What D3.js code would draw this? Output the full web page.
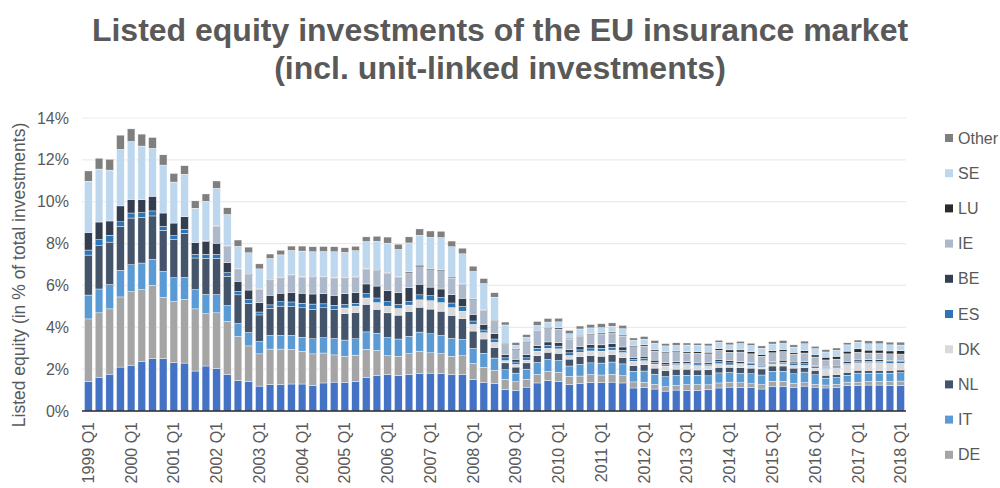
<!DOCTYPE html>
<html>
<head>
<meta charset="utf-8">
<script src="https://cdn.jsdelivr.net/npm/d3@7"></script>
<style>
  body { margin: 0; background: #fff; }
  svg { font-family: "Liberation Sans", Arial, sans-serif; }
</style>
</head>
<body>
<svg id="chart" width="1000" height="488"></svg>
<script>
// quarter labels 1999 Q1 .. 2018 Q1
const years = ["1999","2000","2001","2002","2003","2004","2005","2006","2007","2008",
  "2009","2010","2011","2012","2013","2014","2015","2016","2017","2018"];
const quarters = years.flatMap((y) => ["Q1","Q2","Q3","Q4"].map((q) => `${y} ${q}`)).slice(0, 77);

const yTicks = [0, 2, 4, 6, 8, 10, 12, 14];

// share of total investments, in %
const FR = [1.41,1.59,1.76,2.10,2.19,2.38,2.50,2.50,2.32,2.29,
  1.91,2.15,2.04,1.75,1.46,1.41,1.19,1.26,1.26,1.29,
  1.29,1.22,1.34,1.38,1.37,1.41,1.61,1.70,1.75,1.69,
  1.75,1.78,1.81,1.80,1.75,1.75,1.51,1.37,1.32,1.03,
  0.99,1.14,1.34,1.46,1.41,1.26,1.30,1.37,1.35,1.38,
  1.34,1.10,1.13,1.05,0.95,1.00,0.99,0.99,1.03,1.10,
  1.14,1.11,1.11,1.05,1.18,1.18,1.11,1.19,1.14,1.10,
  1.13,1.22,1.22,1.24,1.24,1.22,1.22];
const DE = [2.99,3.10,3.12,3.35,3.51,3.42,3.50,2.93,2.91,3.04,
  2.97,2.50,2.65,2.53,2.10,1.70,1.54,1.70,1.70,1.65,
  1.56,1.51,1.43,1.30,1.24,1.26,1.34,1.19,0.89,0.92,
  0.99,1.08,0.97,0.94,0.86,0.89,0.76,0.72,0.62,0.48,
  0.41,0.37,0.41,0.43,0.43,0.40,0.37,0.37,0.37,0.37,
  0.35,0.29,0.24,0.22,0.21,0.22,0.27,0.27,0.22,0.24,
  0.24,0.24,0.19,0.21,0.24,0.24,0.22,0.16,0.13,0.14,
  0.14,0.16,0.16,0.17,0.17,0.19,0.21];
const IT = [1.14,1.14,1.16,1.27,1.29,1.27,1.24,1.24,1.14,1.05,
  0.92,0.92,0.87,0.76,0.62,0.64,0.59,0.65,0.65,0.67,
  0.67,0.72,0.73,0.78,0.78,0.78,0.83,0.83,0.87,0.83,
  0.83,0.91,0.91,0.87,0.86,0.78,0.72,0.67,0.59,0.46,
  0.41,0.49,0.57,0.57,0.57,0.49,0.56,0.56,0.57,0.59,
  0.56,0.51,0.54,0.49,0.48,0.48,0.45,0.45,0.43,0.48,
  0.46,0.45,0.48,0.46,0.48,0.48,0.45,0.51,0.46,0.33,
  0.33,0.33,0.43,0.40,0.40,0.40,0.40];
const NL = [1.91,2.07,2.03,2.10,2.23,2.19,2.08,1.96,1.84,2.11,
  1.51,1.73,1.73,1.40,1.37,1.40,1.27,1.30,1.40,1.38,
  1.41,1.41,1.43,1.38,1.26,1.26,1.32,1.14,1.18,1.14,
  1.19,1.19,1.18,1.16,1.10,1.00,0.83,0.68,0.51,0.33,
  0.29,0.30,0.32,0.35,0.35,0.33,0.37,0.35,0.33,0.35,
  0.30,0.27,0.30,0.29,0.29,0.30,0.29,0.25,0.29,0.27,
  0.25,0.27,0.27,0.29,0.25,0.25,0.27,0.22,0.21,0.14,
  0.14,0.14,0.14,0.13,0.13,0.13,0.13];
const DK = [0,0,0,0,0,0,0,0,0,0,
  0,0,0,0,0,0,0,0,0,0,
  0,0,0,0,0.27,0.30,0.30,0.32,0.32,0.32,
  0.30,0.35,0.40,0.41,0.37,0.35,0.32,0.30,0.24,0.11,
  0.13,0.13,0.22,0.19,0.21,0.17,0.21,0.22,0.24,0.22,
  0.24,0.21,0.19,0.19,0.22,0.21,0.22,0.21,0.19,0.17,
  0.11,0.16,0.13,0.10,0.10,0.10,0.13,0.10,0.11,0.32,
  0.30,0.37,0.35,0.37,0.37,0.33,0.32];
const ES = [0.24,0.29,0.33,0.22,0.24,0.22,0.24,0.19,0.17,0.19,
  0.17,0.19,0.19,0.17,0.16,0.17,0.14,0.16,0.21,0.22,
  0.22,0.25,0.19,0.21,0.17,0.14,0.21,0.22,0.21,0.19,
  0.17,0.24,0.24,0.24,0.22,0.22,0.16,0.13,0.16,0.13,
  0.11,0.11,0.14,0.13,0.13,0.13,0.11,0.14,0.14,0.14,
  0.11,0.08,0.11,0.08,0.06,0.06,0.06,0.08,0.08,0.10,
  0.10,0.05,0.08,0.08,0.06,0.08,0.08,0.08,0.08,0.06,
  0.06,0.06,0.06,0.06,0.06,0.08,0.08];
const BE = [0.84,0.84,0.68,0.76,0.65,0.62,0.70,0.64,0.60,0.60,
  0.57,0.62,0.54,0.48,0.49,0.46,0.45,0.46,0.41,0.46,
  0.48,0.48,0.48,0.48,0.51,0.51,0.46,0.57,0.54,0.57,
  0.67,0.51,0.41,0.41,0.40,0.40,0.32,0.27,0.25,0.16,
  0.13,0.16,0.13,0.17,0.16,0.16,0.16,0.16,0.16,0.17,
  0.16,0.10,0.11,0.11,0.11,0.08,0.08,0.08,0.08,0.11,
  0.10,0.08,0.06,0.05,0.06,0.10,0.08,0.10,0.05,0.05,
  0.05,0.10,0.08,0.08,0.08,0.06,0.06];
const IE = [0,0,0,0,0,0,0,0,0,0,
  0,0,0.81,0.78,0.59,0.73,0.64,0.70,0.70,0.81,
  0.76,0.78,0.78,0.81,0.73,0.73,0.70,0.73,0.83,0.73,
  0.70,0.83,0.83,0.87,0.79,0.68,0.70,0.68,0.62,0.48,
  0.46,0.57,0.67,0.64,0.65,0.49,0.49,0.48,0.52,0.51,
  0.52,0.51,0.48,0.43,0.46,0.48,0.41,0.43,0.41,0.43,
  0.41,0.46,0.41,0.38,0.41,0.41,0.38,0.41,0.40,0.30,
  0.33,0.35,0.37,0.32,0.32,0.32,0.30];
const LU = [0,0,0,0,0,0,0,0,0,0,
  0,0.03,0.03,0.03,0.03,0.03,0.03,0.03,0.03,0.03,
  0.03,0.03,0.03,0.03,0.03,0.03,0.03,0.03,0.03,0.03,
  0.05,0.08,0.06,0.05,0.05,0.03,0.05,0.03,0.03,0.06,
  0.05,0.06,0.05,0.06,0.06,0.05,0.05,0.05,0.05,0.05,
  0.05,0.06,0.06,0.06,0.06,0.06,0.06,0.08,0.08,0.08,
  0.11,0.10,0.11,0.08,0.10,0.10,0.08,0.11,0.10,0.13,
  0.13,0.13,0.16,0.14,0.14,0.14,0.16];
const SE = [2.45,2.53,2.43,2.70,2.77,2.56,2.29,2.29,1.96,2.03,
  1.64,1.88,1.78,1.49,1.05,1.02,0.94,1.03,1.10,1.16,
  1.22,1.21,1.21,1.24,1.22,1.24,1.30,1.38,1.40,1.30,
  1.38,1.43,1.49,1.54,1.45,1.41,1.30,1.24,1.10,0.87,
  0.16,0.19,0.24,0.25,0.29,0.21,0.30,0.27,0.25,0.27,
  0.30,0.25,0.27,0.32,0.27,0.24,0.32,0.30,0.30,0.30,
  0.24,0.30,0.29,0.30,0.32,0.29,0.25,0.33,0.30,0.25,
  0.29,0.30,0.32,0.30,0.30,0.29,0.27];
const Other = [0.49,0.52,0.52,0.68,0.60,0.57,0.52,0.49,0.41,0.41,
  0.35,0.35,0.35,0.32,0.30,0.27,0.24,0.21,0.22,0.21,
  0.24,0.24,0.24,0.24,0.22,0.21,0.22,0.24,0.29,0.25,
  0.29,0.30,0.30,0.30,0.27,0.27,0.25,0.24,0.21,0.14,
  0.13,0.13,0.19,0.17,0.17,0.16,0.14,0.16,0.19,0.16,
  0.16,0.11,0.13,0.13,0.11,0.13,0.10,0.10,0.11,0.10,
  0.11,0.11,0.11,0.11,0.11,0.14,0.11,0.13,0.11,0.11,
  0.11,0.10,0.10,0.14,0.14,0.13,0.14];

// stack order, bottom to top
const countries = ["FR", "DE", "IT", "NL", "DK", "ES", "BE", "IE", "LU", "SE", "Other"];
const seriesValues = [FR, DE, IT, NL, DK, ES, BE, IE, LU, SE, Other];
const colors = ["#4472c4", "#a5a5a5", "#5b9bd5", "#44546a", "#d9d9d9", "#2e75b6",
  "#333f50", "#adb9ca", "#2b2b2b", "#bdd7ee", "#7f7f7f"];

const table = quarters.map((q, i) => {
  const row = { quarter: q };
  countries.forEach((c, k) => (row[c] = seriesValues[k][i]));
  return row;
});

const svg = d3.select("#chart");
const plotLeft = 83;
const plotRight = 906;
const plotTop = 118;
const plotBottom = 411;
const TEXT = "#595959";

const x = d3.scaleBand().domain(quarters).range([plotLeft, plotRight]).paddingInner(0.28).paddingOuter(0.14);
const y = d3.scaleLinear().domain([0, 14]).range([plotBottom, plotTop]);
const color = d3.scaleOrdinal().domain(countries).range(colors);

// title
const title = svg.append("g")
  .attr("font-weight", "bold")
  .attr("font-size", 32)
  .attr("fill", TEXT)
  .attr("text-anchor", "middle");
title.append("text").attr("x", 500).attr("y", 41).text("Listed equity investments of the EU insurance market");
title.append("text").attr("x", 500).attr("y", 79).text("(incl. unit-linked investments)");

// gridlines
svg.append("g")
  .selectAll("line")
  .data(yTicks.slice(1))
  .join("line")
  .attr("x1", plotLeft - 1)
  .attr("x2", plotRight)
  .attr("y1", (d) => y(d))
  .attr("y2", (d) => y(d))
  .attr("stroke", "#ebebeb")
  .attr("stroke-width", 1.2);

// y axis labels
const yAxis = svg.append("g")
  .attr("transform", `translate(${plotLeft},0)`)
  .call(d3.axisLeft(y).tickValues(yTicks).tickFormat((d) => d + "%").tickSize(0).tickPadding(14));
yAxis.select(".domain").remove();
yAxis.selectAll("text")
  .attr("font-size", 16)
  .attr("font-family", "Liberation Sans, Arial, sans-serif")
  .attr("fill", TEXT);

svg.append("text")
  .attr("transform", "translate(25,275) rotate(-90)")
  .attr("text-anchor", "middle")
  .attr("font-size", 17.5)
  .attr("fill", TEXT)
  .text("Listed equity (in % of total investments)");

// stacked bars
const stacked = d3.stack().keys(countries)(table);
svg.append("g")
  .selectAll("g")
  .data(stacked)
  .join("g")
  .attr("fill", (d) => color(d.key))
  .selectAll("rect")
  .data((d) => d)
  .join("rect")
  .attr("x", (d) => x(d.data.quarter))
  .attr("width", x.bandwidth())
  .attr("y", (d) => y(d[1]))
  .attr("height", (d) => y(d[0]) - y(d[1]))
  .attr("stroke", "#fff")
  .attr("stroke-width", 0.4);

// x axis
const xAxis = svg.append("g")
  .attr("transform", `translate(0,${plotBottom})`)
  .call(d3.axisBottom(x).tickValues(quarters.filter((q) => q.endsWith("Q1"))).tickSize(0));
xAxis.select(".domain").attr("stroke", "#262626").attr("stroke-width", 1.5)
  .attr("d", `M${plotLeft - 1},0H${plotRight}`);
xAxis.selectAll("text")
  .attr("font-size", 16)
  .attr("font-family", "Liberation Sans, Arial, sans-serif")
  .attr("fill", TEXT)
  .attr("text-anchor", "end")
  .attr("transform", "rotate(-90)")
  .attr("x", -11)
  .attr("y", 0)
  .attr("dy", "0.35em");

// legend, top of stack first (FR falls below the visible area)
const legendKeys = countries.slice().reverse().slice(0, 10);
const legend = svg.append("g").attr("transform", "translate(945,138)");
const item = legend.selectAll("g")
  .data(legendKeys)
  .join("g")
  .attr("transform", (d, i) => `translate(0,${i * 35.2})`);
item.append("rect")
  .attr("x", 0).attr("y", -4)
  .attr("width", 8).attr("height", 8)
  .attr("fill", (d) => color(d));
item.append("text")
  .attr("x", 13).attr("y", 0).attr("dy", "0.35em")
  .attr("font-size", 16)
  .attr("fill", TEXT)
  .text((d) => d);
</script>
</body>
</html>
